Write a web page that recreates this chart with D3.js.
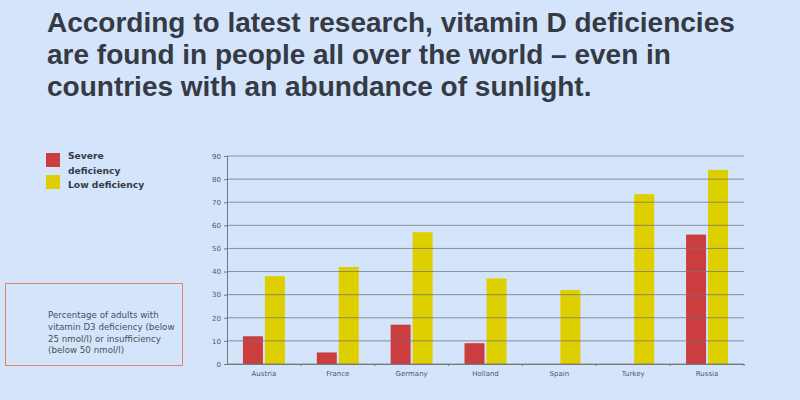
<!DOCTYPE html>
<html><head><meta charset="utf-8">
<script src="https://cdn.jsdelivr.net/npm/d3@7"></script>
<style>
html,body{margin:0;padding:0;background:#d4e5fb;}
svg{display:block;}
</style></head>
<body>
<svg id="c" width="800" height="400"></svg>
<script>
const titleLines = ["According to latest research, vitamin D deficiencies",
  "are found in people all over the world \u2013 even in",
  "countries with an abundance of sunlight."];
const categories = ["Austria","France","Germany","Holland","Spain","Turkey","Russia"];
const severe = [12, 5, 17, 9, 0, 0, 56];
const low = [38, 42, 57, 37, 32, 73.5, 84];
const yTicks = [0,10,20,30,40,50,60,70,80,90];
const seriesNames = ["Severe deficiency","Low deficiency"];
const colors = ["#cc3d3f","#ddcf00"];
const noteLines = ["Percentage of adults with","vitamin D3 deficiency (below","25 nmol/l) or insufficiency","(below 50 nmol/l)"];

const svg = d3.select("#c");
svg.append("rect").attr("width",800).attr("height",400).attr("fill","#d4e5fb");

// title
const t = svg.append("g");
titleLines.forEach((l,i)=>{
  t.append("text").attr("x",47).attr("y",32+i*32).text(l)
   .attr("font-family","Liberation Sans, Arial, sans-serif").attr("font-weight","bold")
   .attr("font-size",28).attr("fill","#353a45");
});

const x0 = 227, x1 = 744, yTop = 156, yBot = 364;
const x = d3.scaleBand().domain(categories).range([x0,x1]);
const y = d3.scaleLinear().domain([0,90]).range([yBot,yTop]);
const bw = 20, gap = 2;

const g = svg.append("g");
categories.forEach((c,i)=>{
  const cx = x(c) + x.bandwidth()/2;
  if (severe[i] > 0)
    g.append("rect").attr("x",cx-gap/2-bw).attr("y",y(severe[i])).attr("width",bw).attr("height",yBot-y(severe[i])).attr("fill",colors[0]);
  if (low[i] > 0)
    g.append("rect").attr("x",cx+gap/2).attr("y",y(low[i])).attr("width",bw).attr("height",yBot-y(low[i])).attr("fill",colors[1]);
});

// grid on top
const grid = svg.append("g");
yTicks.forEach(v=>{
  grid.append("line").attr("x1",x0).attr("x2",x1).attr("y1",y(v)).attr("y2",y(v))
   .attr("stroke", "#6f7378").attr("stroke-width",1).attr("opacity",0.75);
});

// y axis
const ya = svg.append("g").attr("transform",`translate(${x0},0)`)
  .call(d3.axisLeft(y).tickValues(yTicks).tickSize(3).tickPadding(3));
ya.selectAll("text").attr("font-family","DejaVu Sans, sans-serif").attr("font-size",7).attr("fill","#555");
ya.selectAll("line,path").attr("stroke","#777");

// x axis
const xa = svg.append("g").attr("transform",`translate(0,${yBot})`)
  .call(d3.axisBottom(x).tickSize(0).tickPadding(7));
xa.selectAll("text").attr("font-family","DejaVu Sans, sans-serif").attr("font-size",7).attr("fill","#555");
xa.select("path").attr("stroke","#777");
categories.slice(1).forEach(c=>{
  xa.append("line").attr("x1",x(c)).attr("x2",x(c)).attr("y1",0).attr("y2",2).attr("stroke","#777");
});
xa.append("line").attr("x1",x1).attr("x2",x1).attr("y1",0).attr("y2",2).attr("stroke","#777");

// legend
const lg = svg.append("g").attr("font-family","DejaVu Sans, sans-serif").attr("font-weight","bold").attr("font-size",9.2).attr("fill","#353a45");
lg.append("rect").attr("x",46).attr("y",153).attr("width",14).attr("height",14).attr("fill",colors[0]);
lg.append("rect").attr("x",46).attr("y",175).attr("width",14).attr("height",14).attr("fill",colors[1]);
lg.append("text").attr("x",68).attr("y",159).text("Severe");
lg.append("text").attr("x",68).attr("y",174).text("deficiency");
lg.append("text").attr("x",68).attr("y",188).text("Low deficiency");

// note box
svg.append("rect").attr("x",5.5).attr("y",283.5).attr("width",177).attr("height",82).attr("fill","none").attr("stroke","#e8836a").attr("stroke-width",1);
noteLines.forEach((l,i)=>{
  svg.append("text").attr("x",48).attr("y",318+i*11.8).text(l)
   .attr("font-family","DejaVu Sans, sans-serif").attr("font-size",8.7).attr("fill","#4a4e58");
});
</script>
</body></html>
